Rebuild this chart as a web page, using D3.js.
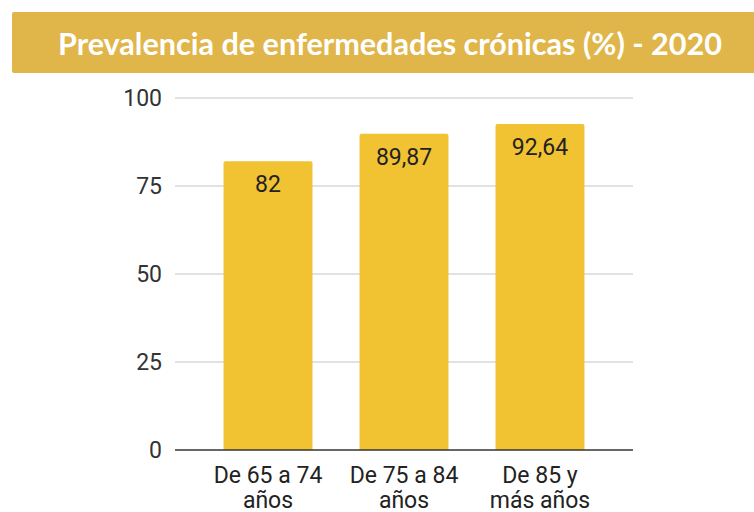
<!DOCTYPE html>
<html><head><meta charset="utf-8">
<script src="https://cdn.jsdelivr.net/npm/d3@7"></script>
<style>body{margin:0;background:#fff}svg{display:block}</style>
</head><body>
<svg id="c" width="754" height="512"></svg>
<script>
const title = "Prevalencia de enfermedades crónicas (%) - 2020";
const categories = [["De 65 a 74","años"],["De 75 a 84","años"],["De 85 y","más años"]];
const values = [82, 89.87, 92.64];
const valueLabels = ["82", "89,87", "92,64"];
const yTicks = [0, 25, 50, 75, 100];

const svg = d3.select("#c");
svg.append("rect").attr("x",12).attr("y",12).attr("width",760).attr("height",61).attr("rx",2).attr("fill","#e0b64b");
svg.append("text").attr("x",390).attr("y",55).attr("text-anchor","middle")
  .attr("font-family","Lato, 'Open Sans', sans-serif").attr("font-weight","bold").attr("font-size",30)
  .attr("textLength",664).attr("lengthAdjust","spacingAndGlyphs")
  .attr("fill","#fff").text(title);

const x = d3.scaleBand().domain(d3.range(categories.length)).range([175,633]).paddingInner(0.346).paddingOuter(0.357);
const y = d3.scaleLinear().domain([0,100]).range([450,98]);

const g = svg.append("g").attr("font-family","Roboto, Arial, sans-serif");
g.selectAll("line.grid").data(yTicks.filter(t=>t>0)).join("line")
  .attr("x1",175).attr("x2",633).attr("y1",d=>y(d)).attr("y2",d=>y(d))
  .attr("stroke","#d9d9d9").attr("stroke-width",1.5);
g.selectAll("text.yt").data(yTicks).join("text")
  .attr("x",162).attr("y",d=>y(d)+8).attr("text-anchor","end")
  .attr("font-size",23).attr("fill","#333").text(d=>d);

g.selectAll("path.bar").data(values).join("path")
  .attr("fill","#f1c232")
  .attr("d",(d,i)=>{
    const x0=x(i), w=x.bandwidth(), t=y(d), b=y(0), r=2;
    return `M${x0},${b}V${t+r}Q${x0},${t} ${x0+r},${t}H${x0+w-r}Q${x0+w},${t} ${x0+w},${t+r}V${b}Z`;
  });
g.selectAll("text.vl").data(values).join("text")
  .attr("x",(d,i)=>x(i)+x.bandwidth()/2).attr("y",d=>y(d)+31)
  .attr("text-anchor","middle").attr("font-size",23).attr("fill","#222")
  .text((d,i)=>valueLabels[i]);

g.append("line").attr("x1",175).attr("x2",633).attr("y1",y(0)).attr("y2",y(0))
  .attr("stroke","#333").attr("stroke-width",1.5);

categories.forEach((lines,i)=>{
  const t = g.append("text").attr("text-anchor","middle").attr("font-size",23).attr("fill","#222");
  lines.forEach((l,j)=>t.append("tspan").attr("x",x(i)+x.bandwidth()/2).attr("y",483+j*25).text(l));
});
</script>
</body></html>
